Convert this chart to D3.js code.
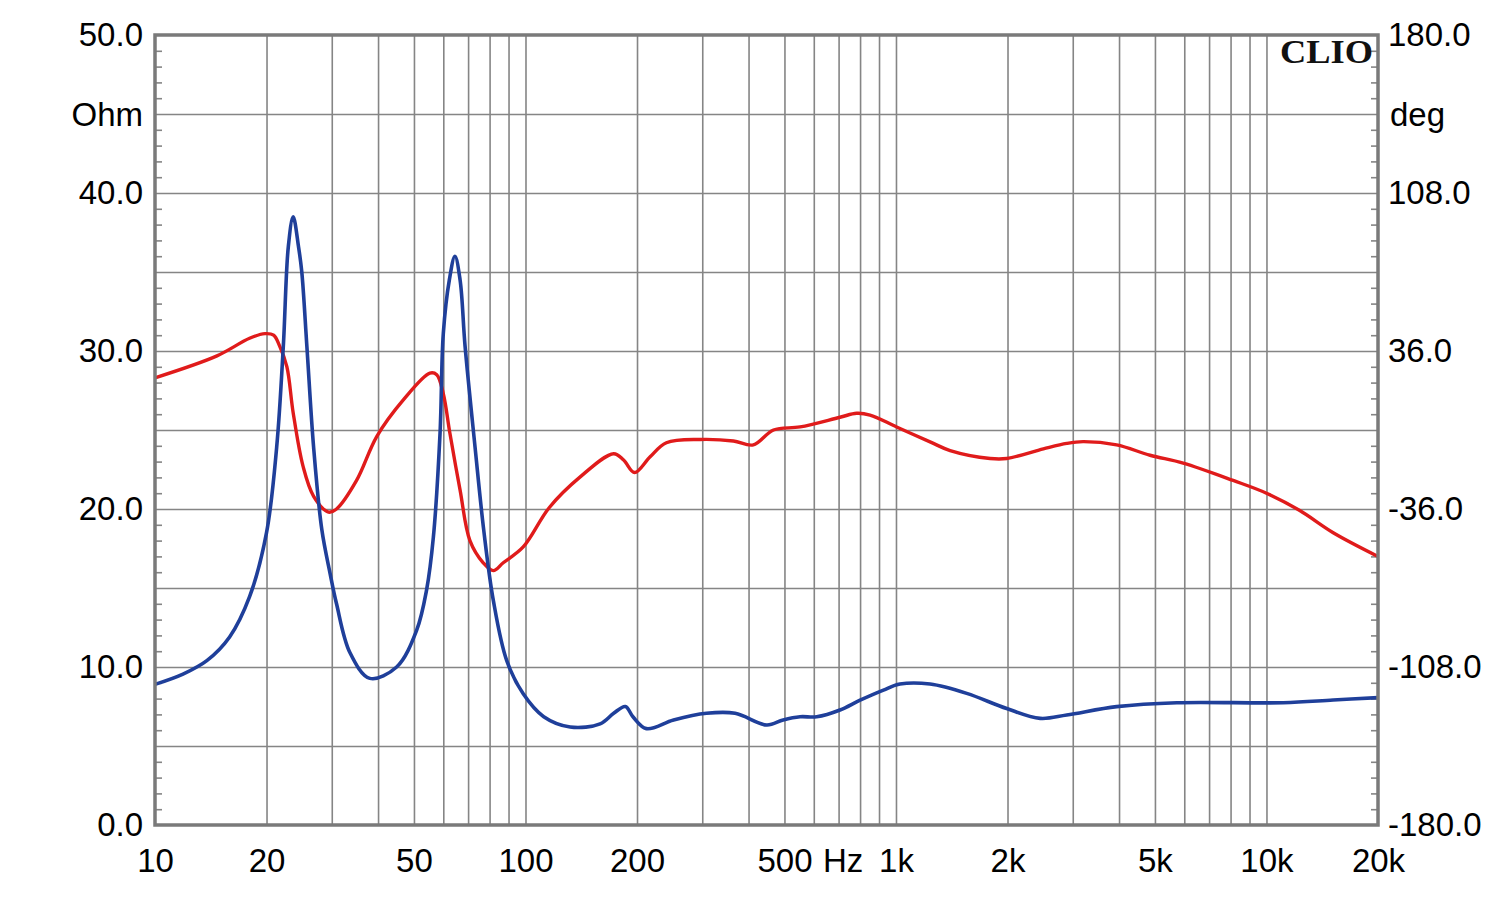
<!DOCTYPE html>
<html>
<head>
<meta charset="utf-8">
<script src="https://cdn.jsdelivr.net/npm/d3@7"></script>
<style>
  html, body { margin: 0; padding: 0; background: #fff; }
  svg { display: block; }
</style>
</head>
<body>
<div id="chart"></div>
<script>
// impedance (blue, Ohm, left axis)
const impFreq = [10, 11.9, 13.8, 15.9, 18, 20, 21.3, 22.2, 22.9, 23.6, 24.4, 24.9, 25.7, 26.8, 28.2, 29.7, 30.9, 33.6, 38, 44.9,
  50.8, 54.1, 56.4, 58.8, 60, 62.3, 64.5, 66.6, 68.7, 73.1, 77.2, 81.9, 89, 98.6, 112, 132, 159, 173, 186, 195, 212,
  251, 308, 368, 448, 496, 551, 611, 706, 800, 925, 1025, 1236, 1552, 1990, 2450, 2890, 3940, 5730, 11100, 15140, 20000];
const impOhm = [8.9, 9.55, 10.4, 11.9, 14.45, 18.5, 23.9, 30.3, 36.6, 38.5, 36.6, 35.0, 30.3, 23.9, 18.7, 15.9, 14.0, 10.9, 9.28, 10.0,
  12.3, 14.9, 18.2, 24.8, 31.1, 34.5, 36.0, 34.5, 30.3, 23.9, 18.6, 14.2, 10.4, 8.3, 6.85, 6.2, 6.4, 7.07, 7.5, 6.85, 6.1,
  6.65, 7.07, 7.07, 6.33, 6.65, 6.85, 6.85, 7.28, 7.9, 8.54, 8.92, 8.92, 8.33, 7.37, 6.75, 6.96, 7.49, 7.74, 7.74, 7.91, 8.06];

// phase (red, deg, right axis)
const phaseFreq = [10, 14.7, 18, 19.8, 20.9, 21.7, 22.7, 23.6, 25.1, 26.8, 29.4, 30.9, 35, 39.7, 46.8, 55.2, 57.6, 60,
  62.5, 66.6, 70.8, 76.9, 81.9, 87.1, 98.6, 116, 140, 173, 184, 197, 217, 240, 296, 364, 412, 467, 551, 706, 783, 851,
  1004, 1262, 1400, 1795, 1990, 2500, 2890, 3200, 3940, 4850, 5960, 8130, 10000, 12300, 15140, 20000];
const phaseDeg = [23.8, 33.8, 41.8, 43.9, 43.2, 38.2, 28.8, 7.9, -16.6, -30.2, -37.4, -36, -23.0, -2.9, 13.7, 25.9, 25.2, 16.6,
  -1.4, -27.4, -50.4, -60.5, -64.1, -60.5, -53.3, -35.3, -21.6, -10.8, -13.7, -19.4, -12.2, -5.8, -4.3, -5.0, -6.8, 0, 1.4, 5.8, 7.6, 6.8,
  1.4, -6.1, -9.4, -13, -13, -8.6, -6.1, -5.3, -6.8, -11.5, -15.1, -23.0, -28.8, -36.7, -46.8, -57.6];

const xTicks = [10, 20, 50, 100, 200, 500, 1000, 2000, 5000, 10000, 20000];
const xTickLabels = ['10', '20', '50', '100', '200', '500', '1k', '2k', '5k', '10k', '20k'];
const ohmTicks = [0, 10, 20, 30, 40, 50];
const degTicks = [-180, -108, -36, 36, 108, 180];

const W = 1500, H = 899;
const margin = { top: 35, right: 122, bottom: 74, left: 155 };
const iw = W - margin.left - margin.right;
const ih = H - margin.top - margin.bottom;

const gridColor = '#858585';
const font = '"Liberation Sans", Arial, sans-serif';
const fmt = d => d.toFixed(1);   // plain hyphen for negatives, like the original

const svg = d3.select('#chart').append('svg').attr('width', W).attr('height', H);
const g = svg.append('g').attr('transform', `translate(${margin.left},${margin.top})`);

const x = d3.scaleLog().domain([10, 20000]).range([0, iw]);
const yOhm = d3.scaleLinear().domain([0, 50]).range([ih, 0]);
const yDeg = d3.scaleLinear().domain([-180, 180]).range([ih, 0]);

// vertical grid: 1..9 of each decade (inside the frame)
const vGrid = [];
[10, 100, 1000, 10000].forEach(d => { for (let k = 1; k <= 9; k++) if (d * k > 10 && d * k < 20000) vGrid.push(d * k); });
g.append('g')
  .call(d3.axisBottom(x).tickValues(vGrid).tickSize(ih).tickFormat(''))
  .call(sel => {
    sel.select('.domain').remove();
    sel.selectAll('line').attr('stroke', gridColor).attr('stroke-width', 1.6);
  });

// horizontal grid every 5 Ohm
g.append('g')
  .call(d3.axisLeft(yOhm).tickValues(d3.range(5, 50, 5)).tickSize(-iw).tickFormat(''))
  .call(sel => {
    sel.select('.domain').remove();
    sel.selectAll('line').attr('stroke', gridColor).attr('stroke-width', 1.6);
  });

// minor inward ticks, left and right
const minor = d3.range(1, 50).filter(v => v % 5 !== 0);
g.append('g')
  .call(d3.axisRight(yOhm).tickValues(minor).tickSize(7).tickFormat(''))
  .call(sel => {
    sel.select('.domain').remove();
    sel.selectAll('line').attr('stroke', gridColor).attr('stroke-width', 1.6);
  });
g.append('g')
  .attr('transform', `translate(${iw},0)`)
  .call(d3.axisLeft(yOhm).tickValues(minor).tickSize(7).tickFormat(''))
  .call(sel => {
    sel.select('.domain').remove();
    sel.selectAll('line').attr('stroke', gridColor).attr('stroke-width', 1.6);
  });

// curves
const impData = impFreq.map((f, i) => [f, impOhm[i]]);
const phaseData = phaseFreq.map((f, i) => [f, phaseDeg[i]]);

g.append('path')
  .datum(phaseData)
  .attr('fill', 'none')
  .attr('stroke', '#e01b1b')
  .attr('stroke-width', 3.4)
  .attr('stroke-linejoin', 'round')
  .attr('d', d3.line().x(d => x(d[0])).y(d => yDeg(d[1])).curve(d3.curveCatmullRom.alpha(0.5)));

g.append('path')
  .datum(impData)
  .attr('fill', 'none')
  .attr('stroke', '#1f3f9a')
  .attr('stroke-width', 3.6)
  .attr('stroke-linejoin', 'round')
  .attr('d', d3.line().x(d => x(d[0])).y(d => yOhm(d[1])).curve(d3.curveCatmullRom.alpha(0.5)));

// frame
g.append('rect')
  .attr('width', iw).attr('height', ih)
  .attr('fill', 'none')
  .attr('stroke', '#7a7a7a')
  .attr('stroke-width', 3.5);

// left axis labels
g.append('g')
  .call(d3.axisLeft(yOhm).tickValues(ohmTicks).tickSize(0).tickPadding(12).tickFormat(fmt))
  .call(sel => {
    sel.select('.domain').remove();
    sel.selectAll('text').attr('fill', '#000').style('font-size', '33px').style('font-family', font);
  });
g.append('text')
  .attr('x', -12).attr('y', yOhm(45)).attr('dy', '0.35em')
  .attr('text-anchor', 'end')
  .attr('fill', '#000').style('font-size', '33px').style('font-family', font)
  .text('Ohm');

// right axis labels
g.append('g')
  .attr('transform', `translate(${iw},0)`)
  .call(d3.axisRight(yDeg).tickValues(degTicks).tickSize(0).tickPadding(10).tickFormat(fmt))
  .call(sel => {
    sel.select('.domain').remove();
    sel.selectAll('text').attr('fill', '#000').style('font-size', '33px').style('font-family', font);
  });
g.append('text')
  .attr('x', iw + 12).attr('y', yOhm(45)).attr('dy', '0.35em')
  .attr('fill', '#000').style('font-size', '33px').style('font-family', font)
  .text('deg');

// bottom labels
g.append('g')
  .attr('transform', `translate(0,${ih})`)
  .call(d3.axisBottom(x).tickValues(xTicks).tickSize(0).tickPadding(24).tickFormat((d, i) => xTickLabels[i]))
  .call(sel => {
    sel.select('.domain').remove();
    sel.selectAll('text').attr('fill', '#000').style('font-size', '33px').style('font-family', font);
  });
g.append('text')
  .attr('x', x(720)).attr('y', ih + 24).attr('dy', '0.71em')
  .attr('text-anchor', 'middle')
  .attr('fill', '#000').style('font-size', '33px').style('font-family', font)
  .text('Hz');

// logo
g.append('text')
  .attr('x', iw - 5).attr('y', 28)
  .attr('text-anchor', 'end')
  .attr('textLength', 93).attr('lengthAdjust', 'spacingAndGlyphs')
  .attr('fill', '#111')
  .style('font-size', '33px').style('font-weight', 'bold')
  .style('font-family', '"Liberation Serif", "DejaVu Serif", serif')
  .text('CLIO');
</script>
</body>
</html>
